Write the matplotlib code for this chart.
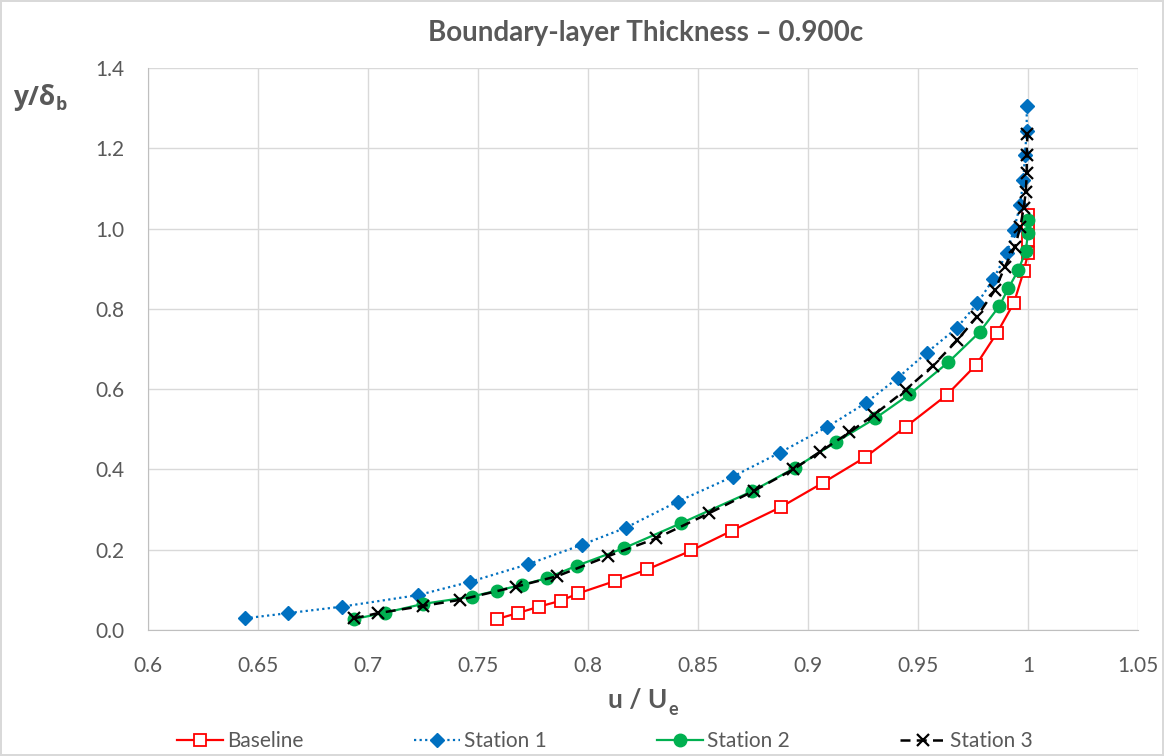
import numpy as np
import matplotlib
matplotlib.use('Agg')
import matplotlib.pyplot as plt

plt.rcParams['font.family'] = ['Lato', 'DejaVu Sans']

# values
base_u = [0.7585, 0.768, 0.7777, 0.7877, 0.7955, 0.8123, 0.827, 0.847, 0.8653, 0.8876,
          0.9069, 0.9259, 0.9444, 0.9630, 0.9765, 0.986, 0.9936, 0.998, 1.0, 1.0, 1.0, 1.0]
base_y = [0.027, 0.042, 0.058, 0.073, 0.091, 0.122, 0.151, 0.198, 0.247, 0.306,
          0.367, 0.430, 0.506, 0.585, 0.661, 0.741, 0.815, 0.893, 0.938, 0.971, 1.003, 1.034]

s1_u = [0.6441, 0.6638, 0.688, 0.7229, 0.7464, 0.7729, 0.7971, 0.8173, 0.8408, 0.8658,
        0.8873, 0.9088, 0.9264, 0.9408, 0.954, 0.9676, 0.977, 0.9842, 0.9903, 0.9936,
        0.9964, 0.9979, 0.9986, 0.9994, 0.9994]
s1_y = [0.029, 0.042, 0.058, 0.087, 0.120, 0.164, 0.212, 0.255, 0.320, 0.382,
        0.442, 0.506, 0.566, 0.628, 0.691, 0.752, 0.814, 0.874, 0.938, 0.997,
        1.059, 1.122, 1.184, 1.243, 1.305]

s2_u = [0.6936, 0.7077, 0.7251, 0.7471, 0.7585, 0.7699, 0.7812, 0.7949, 0.8164, 0.8423,
        0.8744, 0.8941, 0.9127, 0.9305, 0.9461, 0.9638, 0.978, 0.987, 0.991, 0.9956,
        0.999, 1.0, 1.0]
s2_y = [0.027, 0.043, 0.065, 0.083, 0.098, 0.112, 0.129, 0.160, 0.204, 0.266,
        0.345, 0.404, 0.468, 0.527, 0.587, 0.667, 0.742, 0.807, 0.851, 0.896,
        0.945, 0.990, 1.021]

s3_u = [0.6936, 0.7047, 0.7251, 0.7418, 0.7673, 0.786, 0.8092, 0.8309, 0.8551, 0.8756,
        0.8933, 0.9055, 0.9188, 0.930, 0.9444, 0.9567, 0.9679, 0.9767, 0.985, 0.9895,
        0.9941, 0.9965, 0.998, 0.999, 0.9994, 0.9994, 0.9997]
s3_y = [0.029, 0.042, 0.060, 0.075, 0.108, 0.134, 0.184, 0.228, 0.291, 0.347,
        0.400, 0.444, 0.492, 0.536, 0.598, 0.658, 0.722, 0.780, 0.847, 0.905,
        0.955, 1.005, 1.050, 1.092, 1.138, 1.183, 1.235]

x_ticks = [0.6, 0.65, 0.7, 0.75, 0.8, 0.85, 0.9, 0.95, 1.0, 1.05]
x_labels = ['0.6', '0.65', '0.7', '0.75', '0.8', '0.85', '0.9', '0.95', '1', '1.05']
y_ticks = [0.0, 0.2, 0.4, 0.6, 0.8, 1.0, 1.2, 1.4]

grey = '#595959'

fig = plt.figure(figsize=(11.64, 7.56), dpi=100)
fig.patch.set_edgecolor('#D9D9D9')
fig.patch.set_linewidth(1.5)
ax = fig.add_axes([0.1271, 0.1667, 0.8506, 0.7434])

ax.plot(base_u, base_y, color='#FF0000', lw=1.6, marker='s', ms=9,
        mfc='white', mec='#FF0000', mew=1.3, label='Baseline')
ax.plot(s1_u, s1_y, color='#0070C0', lw=1.6, ls=(0, (1, 1.5)), marker='D', ms=7,
        mec='#0070C0', label='Station 1')
ax.plot(s2_u, s2_y, color='#00B050', lw=1.6, marker='o', ms=9, label='Station 2')
ax.plot(s3_u, s3_y, color='black', lw=1.8, ls=(0, (4, 2.5)), marker='x', ms=8,
        mew=1.6, label='Station 3')

ax.set_xlim(0.6, 1.05)
ax.set_ylim(0, 1.4)
ax.set_xticks(x_ticks)
ax.set_xticklabels(x_labels)
ax.set_yticks(y_ticks)
ax.set_yticklabels(['%.1f' % v for v in y_ticks])
ax.grid(color='#D9D9D9', lw=1)
ax.set_axisbelow(True)
for s in ['top', 'right']:
    ax.spines[s].set_visible(False)
for s in ['left', 'bottom']:
    ax.spines[s].set_color('#BFBFBF')
ax.tick_params(length=0, labelsize=15, labelcolor=grey)
ax.tick_params(axis='x', pad=19)
ax.tick_params(axis='y', pad=17)

fig.text(0.5545, 0.956, 'Boundary-layer Thickness \u2013 0.900c', ha='center', va='center',
         fontsize=20, fontweight='bold', color=grey)

# axis labels, subscript hung off the end of the main text
xl = fig.text(0.548, 0.074, 'u / U', ha='center', va='center', fontsize=19,
              fontweight='bold', color=grey)
yl = fig.text(0.011, 0.871, 'y/\u03b4', ha='left', va='center', fontsize=19,
              fontweight='bold', color=grey, family=['Open Sans', 'DejaVu Sans'])

fig.canvas.draw()
r = fig.canvas.get_renderer()
bb = xl.get_window_extent(r)
fig.text((bb.x1 + 1) / fig.bbox.width, (bb.y0 + 3) / fig.bbox.height, 'e', ha='left',
         va='center', fontsize=13, fontweight='bold', color=grey)
bb = yl.get_window_extent(r)
fig.text((bb.x1 + 1) / fig.bbox.width, (bb.y0 + 6) / fig.bbox.height, 'b', ha='left',
         va='center', fontsize=13, fontweight='bold', color=grey,
         family=['Open Sans', 'DejaVu Sans'])

leg = fig.legend(loc='center', bbox_to_anchor=(0.52, 0.0195), ncol=4, frameon=False,
                 fontsize=15, columnspacing=5.3, handlelength=2.2, handletextpad=0.2)
for t in leg.get_texts():
    t.set_color(grey)

fig.savefig('out.png', dpi=100, edgecolor=fig.get_edgecolor())
